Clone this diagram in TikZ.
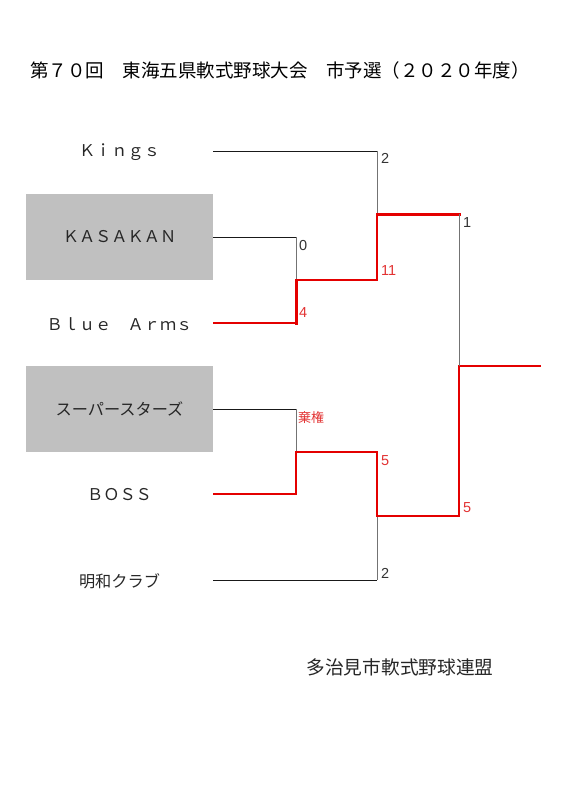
\documentclass[tikz,border=0pt]{standalone}
\usepackage{fontspec}
\setmainfont{Liberation Sans}
\newfontfamily\jp{Noto Sans CJK JP}
\definecolor{win}{RGB}{228,0,0}
\definecolor{wlab}{RGB}{226,50,50}
\definecolor{boxgray}{RGB}{192,192,192}
\begin{document}
\begin{tikzpicture}[x=1pt,y=-1pt,
 team/.style={minimum width=187pt, minimum height=86pt, inner sep=0pt, font=\jp\fontsize{16.2}{16.2}\selectfont, text=black!85},
 seeded/.style={team, fill=boxgray},
 ln/.style={line width=0.8pt, black!90},
 vln/.style={line width=0.8pt, black!55},
 rln/.style={line width=1.6pt, win, line join=miter},
 rmid/.style={line width=2.2pt, win, line cap=rect},
 rthick/.style={line width=3pt, win, line cap=rect},
 score/.style={anchor=west, inner sep=0pt, font=\fontsize{14.5}{14.5}\selectfont, text=black!80},
 rscore/.style={score, text=wlab}]
\useasboundingbox (0,0) rectangle (567,800);
\node[font=\jp\fontsize{18.5}{18.5}\selectfont] (title) at (280,70) {第７０回　東海五県軟式野球大会　市予選（２０２０年度）};

\node[team]   (kings)   at (119.5,152) {Ｋｉｎｇｓ};
\node[seeded] (kasakan) at (119.5,237) {\raisebox{-1pt}{ＫＡＳＡＫＡＮ}};
\node[team]   (blue)    at (119.5,324) {Ｂｌｕｅ　Ａｒｍｓ};
\node[seeded] (ss)      at (119.5,409) {\raisebox{-1pt}{スーパースターズ}};
\node[team]   (boss)    at (119.5,495) {ＢＯＳＳ};
\node[team]   (meiwa)   at (119.5,581) {明和クラブ};

\coordinate (a1) at (296,237);
\coordinate (a2) at (296,280);
\coordinate (a3) at (296,323);
\coordinate (c1) at (377,151);
\coordinate (c2) at (377,214);
\coordinate (c3) at (377,280);
\coordinate (b1) at (296,409);
\coordinate (b2) at (296,452);
\coordinate (b3) at (296,494);
\coordinate (d1) at (377,452);
\coordinate (d2) at (377,516);
\coordinate (d3) at (377,580);
\coordinate (f1) at (459,214);
\coordinate (f2) at (459,366);
\coordinate (f3) at (459,516);
\coordinate (champ) at (541,366);

% upper block
\draw[ln] (kings.east |- c1) -- (c1);
\draw[vln] (c1) -- (c2);
\draw[ln] (kasakan.east) -- (a1);
\draw[vln] (a1) -- (a2);
\draw[rln] (blue.east |- a3) -- (a3);
\draw[rthick] (a3) -- (a2);
\draw[rln] (a2) -- (c3);
\draw[rmid] (c3) -- (c2);
\draw[rthick] (c2) -- (f1);
% lower block
\draw[ln] (ss.east) -- (b1);
\draw[vln] (b1) -- (b2);
\draw[ln] (meiwa.east |- d3) -- (d3);
\draw[vln] (d3) -- (d2);
\draw[rln] (boss.east |- b3) -- (b3) -- (b2) -- (d1) -- (d2) -- (f3) -- (f2) -- (champ);
% final
\draw[vln] (f1) -- (f2);

% scores
\node[score]  (s1) at (381,158) {2};
\node[score]  (s2) at (299,246) {0};
\node[rscore] (s3) at (381,271) {11};
\node[rscore] (s4) at (299,313) {4};
\node[score]  (s5) at (463,223) {1};
\node[rscore, font=\jp\fontsize{13}{13}\selectfont] (s6) at (298,418) {棄権};
\node[rscore] (s7) at (381,461) {5};
\node[score]  (s8) at (381,573) {2};
\node[rscore] (s9) at (463,508) {5};

\node[font=\jp\fontsize{18.7}{18.7}\selectfont, text=black!85] (footer) at (400,667) {多治見市軟式野球連盟};
\end{tikzpicture}
\end{document}
